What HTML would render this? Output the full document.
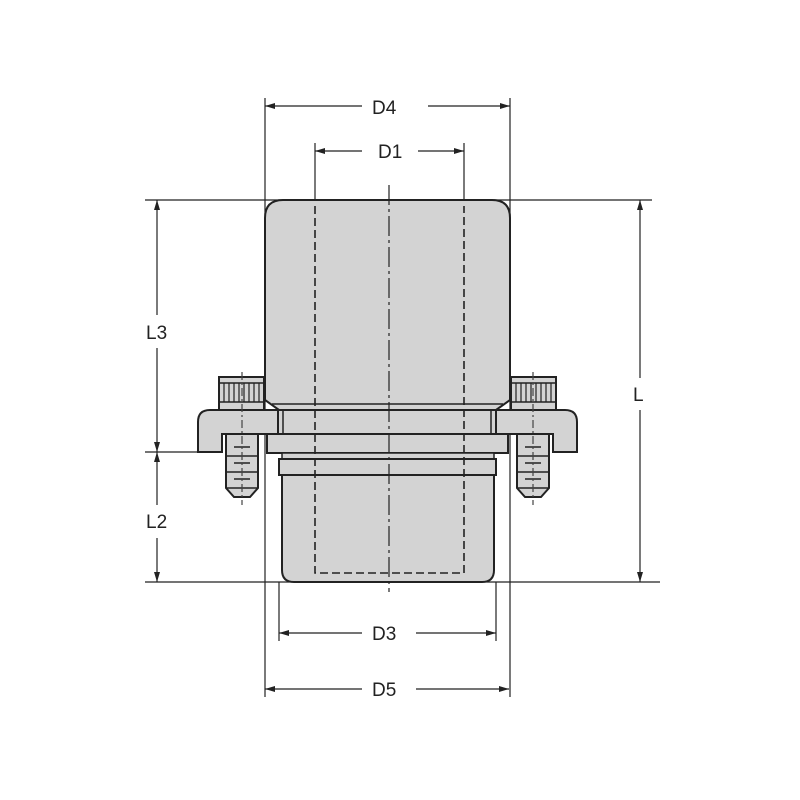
<!DOCTYPE html>
<html><head><meta charset="utf-8"><style>
html,body{margin:0;padding:0;background:#fff}
svg{display:block}
text{font-family:"Liberation Sans",sans-serif;font-size:19px;fill:#222}
</style></head><body>
<svg width="800" height="800" viewBox="0 0 800 800" xmlns="http://www.w3.org/2000/svg">
<defs>
<marker id="a" viewBox="0 0 10 6" refX="10" refY="3" markerWidth="10" markerHeight="6" orient="auto-start-reverse" markerUnits="userSpaceOnUse"><path d="M0,0 L10,3 L0,6z" fill="#222"/></marker>
<g id="side">
  <!-- screw head -->
  <rect x="219" y="377" width="45" height="33" fill="#d3d3d3" stroke="#222" stroke-width="2"/>
  <line x1="219" y1="383" x2="264" y2="383" stroke="#222" stroke-width="1.5"/>
  <line x1="219" y1="402" x2="264" y2="402" stroke="#222" stroke-width="1.5"/>
  <g stroke="#222" stroke-width="1.2">
    <line x1="224" y1="383" x2="224" y2="402"/><line x1="229" y1="383" x2="229" y2="402"/><line x1="234" y1="383" x2="234" y2="402"/><line x1="239" y1="383" x2="239" y2="402"/><line x1="244" y1="383" x2="244" y2="402"/><line x1="249" y1="383" x2="249" y2="402"/><line x1="254" y1="383" x2="254" y2="402"/><line x1="259" y1="383" x2="259" y2="402"/>
  </g>
  <!-- flange left -->
  <path d="M282,410 L210,410 Q198,410 198,422 L198,452 L222,452 L222,434 L282,434 Z" fill="#d3d3d3" stroke="#222" stroke-width="2"/>
  <!-- screw -->
  <path d="M226,434 L258,434 L258,488 L250,497 L234,497 L226,488 Z" fill="#d3d3d3" stroke="#222" stroke-width="2"/>
  <g stroke="#222" stroke-width="1.5">
    <line x1="226" y1="456" x2="258" y2="456"/><line x1="226" y1="472" x2="258" y2="472"/><line x1="226" y1="488" x2="258" y2="488"/>
    <line x1="234" y1="447" x2="250" y2="447"/><line x1="234" y1="463" x2="250" y2="463"/><line x1="234" y1="479" x2="250" y2="479"/>
  </g>
  <line x1="242" y1="372" x2="242" y2="505" stroke="#444" stroke-width="1.2" stroke-dasharray="8,3,2,3"/>
</g>
</defs>

<!-- extension lines -->
<g stroke="#222" stroke-width="1.2">
  <line x1="145" y1="200" x2="652" y2="200"/>
  <line x1="145" y1="452" x2="222" y2="452"/>
  <line x1="145" y1="582" x2="660" y2="582"/>
  <line x1="265" y1="98" x2="265" y2="697"/>
  <line x1="510" y1="98" x2="510" y2="697"/>
  <line x1="315" y1="143" x2="315" y2="200"/>
  <line x1="464" y1="143" x2="464" y2="200"/>
  <line x1="279" y1="582" x2="279" y2="641"/>
  <line x1="496" y1="582" x2="496" y2="641"/>
</g>

<!-- upper body -->
<path d="M265,400 L265,218 Q265,200 283,200 L492,200 Q510,200 510,218 L510,400 L496,410 L279,410 Z" fill="#d3d3d3" stroke="#222" stroke-width="2"/>
<line x1="272" y1="404" x2="503" y2="404" stroke="#222" stroke-width="1.5"/>

<use href="#side"/>
<use href="#side" transform="translate(775,0) scale(-1,1)"/>

<!-- flange center -->
<rect x="278" y="410" width="218" height="24" fill="#d3d3d3" stroke="#222" stroke-width="2"/>
<line x1="283" y1="410" x2="283" y2="434" stroke="#222" stroke-width="1.5"/>
<line x1="491" y1="410" x2="491" y2="434" stroke="#222" stroke-width="1.5"/>
<!-- band -->
<rect x="267" y="434" width="241" height="19" fill="#d3d3d3" stroke="#222" stroke-width="2"/>
<rect x="282" y="453" width="212" height="6" fill="#d3d3d3" stroke="#222" stroke-width="1.5"/>
<!-- lower body -->
<path d="M282,475 L282,570 Q282,582 294,582 L482,582 Q494,582 494,570 L494,475 Z" fill="#d3d3d3" stroke="#222" stroke-width="2"/>
<rect x="279" y="459" width="217" height="16" fill="#d3d3d3" stroke="#222" stroke-width="2"/>

<!-- hidden lines -->
<g stroke="#222" stroke-width="1.6" stroke-dasharray="8,4" fill="none">
  <path d="M315,206 L315,573 L464,573 L464,206"/>
</g>
<line x1="389" y1="185" x2="389" y2="592" stroke="#222" stroke-width="1.2" stroke-dasharray="20,4,3,4"/>

<!-- dimensions -->
<g stroke="#222" stroke-width="1.2" fill="none">
  <line x1="265" y1="106" x2="362" y2="106" marker-start="url(#a)"/><line x1="428" y1="106" x2="510" y2="106" marker-end="url(#a)"/>
  <line x1="315" y1="151" x2="362" y2="151" marker-start="url(#a)"/><line x1="418" y1="151" x2="464" y2="151" marker-end="url(#a)"/>
  <line x1="279" y1="633" x2="362" y2="633" marker-start="url(#a)"/><line x1="416" y1="633" x2="496" y2="633" marker-end="url(#a)"/>
  <line x1="265" y1="689" x2="362" y2="689" marker-start="url(#a)"/><line x1="416" y1="689" x2="509" y2="689" marker-end="url(#a)"/>
  <line x1="157" y1="200" x2="157" y2="315" marker-start="url(#a)"/><line x1="157" y1="348" x2="157" y2="452" marker-end="url(#a)"/>
  <line x1="157" y1="452" x2="157" y2="505" marker-start="url(#a)"/><line x1="157" y1="538" x2="157" y2="582" marker-end="url(#a)"/>
  <line x1="640" y1="200" x2="640" y2="378" marker-start="url(#a)"/><line x1="640" y1="410" x2="640" y2="582" marker-end="url(#a)"/>
</g>
<text x="372" y="114">D4</text>
<text x="378" y="158">D1</text>
<text x="372" y="640">D3</text>
<text x="372" y="696">D5</text>
<text x="146" y="339">L3</text>
<text x="146" y="528">L2</text>
<text x="633" y="401">L</text>
</svg>
</body></html>
